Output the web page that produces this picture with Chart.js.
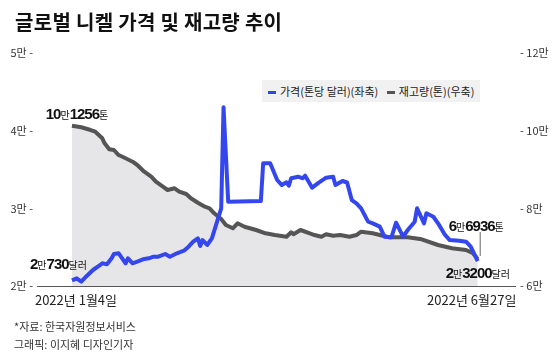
<!DOCTYPE html>
<html>
<head>
<meta charset="utf-8">
<script src="https://cdn.jsdelivr.net/npm/chart.js@4.4.1/dist/chart.umd.min.js"></script>
<style>
  body { margin: 0; background: #fff; font-family: "Noto Sans CJK KR", "Noto Sans", sans-serif; }
  #wrap { position: relative; width: 560px; height: 353px; overflow: hidden; }
  #chart { position: absolute; left: 0; top: 0; }
  .title { position: absolute; left: 15px; top: 7px; font-size: 20px; font-weight: 700; color: #111; letter-spacing: 0.3px; }
  .legend { position: absolute; left: 262px; top: 80px; width: 218px; height: 22px; background: #f1f1f1;
            font-size: 11px; color: #222; line-height: 22px; white-space: nowrap; }
  .legend span.sw { display: inline-block; width: 8px; height: 3px; vertical-align: middle; margin: 0 4px 2px 6px; }
  .note { position: absolute; left: 14px; font-size: 11px; color: #333; }
</style>
</head>
<body>
<div id="wrap">
  <canvas id="chart" width="560" height="353"></canvas>
  <div class="title">글로벌 니켈 가격 및 재고량 추이</div>
  <div class="legend"><span class="sw" style="background:#3446ee"></span>가격(톤당 달러)(좌축) <span class="sw" style="background:#555"></span>재고량(톤)(우축)</div>
  <div class="note" style="top:318px">*자료: 한국자원정보서비스</div>
  <div class="note" style="top:336px">그래픽: 이지혜 디자인기자</div>
</div>
<script>
// 날짜: 2022-01-04 기준 경과일
const priceDays = [0,2,4,6,9,12,13,15,17,18,20,21,23,24,26,28,31,33,35,37,40,42,45,48,50,52,54,55,56,58,60,64,65,67,81,82,85,88,90,92,93,94,97,99,100,103,106,109,112,113,116,118,120,122,124,127,129,132,134,137,139,142,144,147,148,151,152,155,157,160,162,166,169,171,174];
const priceValues = [20730,20990,20550,21200,22060,22700,22920,22790,23570,24120,24210,23770,22920,23570,22920,23130,23480,23570,23770,23770,24120,23770,24210,24550,25060,25700,26140,25150,25920,25280,26140,30000,43000,30850,30940,35800,35800,33650,33000,33350,32910,33870,34070,33870,34200,32660,33350,33950,34070,33000,33520,33330,31070,30650,30000,28280,28070,27640,26350,26270,28150,26350,27210,28280,30000,28070,29360,28920,28070,26570,25920,25830,25700,25060,23200];

const stockDays = [0,4,8,10,13,14,16,18,20,23,26,28,31,34,36,39,41,44,46,49,51,54,57,59,61,64,66,69,71,74,79,83,87,92,94,95,98,102,104,107,109,112,115,119,122,124,129,132,136,144,150,157,163,169,172,174];
const stockValues = [101256,100870,100170,99730,98030,96750,95200,95020,93730,92880,92010,91160,89430,88150,86860,85570,84720,85160,84280,83690,82580,81450,80420,80010,78720,77250,75710,74860,76150,75270,74420,73570,73130,72690,73830,73310,74420,73570,73130,72690,73310,72950,73130,72690,73130,73980,73570,73130,72540,72540,72030,70560,69710,69270,68420,66936];

const dateLabels = ['2022년 1월4일', '2022년 6월27일'];
const leftTicks = [20000, 30000, 40000, 50000];
const rightTicks = [60000, 80000, 100000, 120000];

const BIG = 'bold 15px "Liberation Sans", Arial, sans-serif';
const SMALL = '10px "Noto Sans CJK KR", sans-serif';

// 큰 숫자 + 작은 글자 섞어 쓰기
function mixed(ctx, parts, x, y, align) {
  let w = 0;
  parts.forEach(p => {
    ctx.font = p[1];
    ctx.letterSpacing = p[1] === BIG ? '-1px' : '0px';
    p.w = ctx.measureText(p[0]).width;
    w += p.w;
  });
  let cx = align === 'center' ? x - w / 2 : align === 'right' ? x - w : x;
  parts.forEach(p => {
    ctx.font = p[1];
    ctx.letterSpacing = p[1] === BIG ? '-1px' : '0px';
    ctx.fillText(p[0], cx, y);
    cx += p.w;
  });
  ctx.letterSpacing = '0px';
}

const labelsPlugin = {
  id: 'labels',
  afterDatasetsDraw(chart) {
    const ctx = chart.ctx;
    const xs = chart.scales.x, yL = chart.scales.y, yR = chart.scales.y1;
    const last = priceDays.length - 1, lastS = stockDays.length - 1;
    ctx.save();
    ctx.fillStyle = '#111';
    ctx.textBaseline = 'alphabetic';

    let px = xs.getPixelForValue(stockDays[0]), py = yR.getPixelForValue(stockValues[0]);
    mixed(ctx, [['10', BIG], ['만', SMALL], ['1256', BIG], ['톤', SMALL]], px + 5, py - 7, 'center');

    px = xs.getPixelForValue(priceDays[0]); py = yL.getPixelForValue(priceValues[0]);
    mixed(ctx, [['2', BIG], ['만', SMALL], ['730', BIG], ['달러', SMALL]], px + 15, py - 11, 'right');

    px = xs.getPixelForValue(stockDays[lastS]); py = yR.getPixelForValue(stockValues[lastS]);
    mixed(ctx, [['6', BIG], ['만', SMALL], ['6936', BIG], ['톤', SMALL]], px - 29, py - 28, 'left');
    ctx.strokeStyle = '#666';
    ctx.lineWidth = 1;
    ctx.beginPath();
    ctx.moveTo(px + 2.5, py - 27);
    ctx.lineTo(px + 2.5, py - 3);
    ctx.stroke();

    px = xs.getPixelForValue(priceDays[last]); py = yL.getPixelForValue(priceValues[last]);
    mixed(ctx, [['2', BIG], ['만', SMALL], ['3200', BIG], ['달러', SMALL]], px - 32, py + 17, 'left');

    // 날짜 라벨
    ctx.font = '13px "Noto Sans CJK KR", sans-serif';
    ctx.fillStyle = '#222';
    ctx.textAlign = 'center';
    ctx.fillText(dateLabels[0], xs.getPixelForValue(priceDays[0]) + 4, xs.top + 19);
    ctx.fillText(dateLabels[1], xs.getPixelForValue(priceDays[last]) - 6, xs.top + 19);
    ctx.restore();
  }
};

new Chart(document.getElementById('chart'), {
  type: 'line',
  data: {
    datasets: [
      {
        label: '가격(톤당 달러)(좌축)',
        data: priceDays.map((d, i) => ({ x: d, y: priceValues[i] })),
        yAxisID: 'y',
        borderColor: '#3446ee',
        borderWidth: 4,
        pointRadius: 0,
        tension: 0,
        borderJoinStyle: 'round',
        fill: false
      },
      {
        label: '재고량(톤)(우축)',
        data: stockDays.map((d, i) => ({ x: d, y: stockValues[i] })),
        yAxisID: 'y1',
        borderColor: '#555555',
        backgroundColor: '#e6e6e8',
        borderWidth: 4,
        pointRadius: 0,
        tension: 0,
        borderJoinStyle: 'round',
        fill: 'start'
      }
    ]
  },
  options: {
    responsive: false,
    devicePixelRatio: 1,
    animation: false,
    layout: { padding: { top: 53, left: 0, right: 0, bottom: 0 } },
    plugins: { legend: { display: false }, tooltip: { enabled: false }, title: { display: false } },
    scales: {
      x: {
        type: 'linear',
        min: -15,
        max: 190,
        grid: { display: false },
        border: { display: true, color: '#555', width: 1 },
        ticks: { display: false },
        afterFit(axis) { axis.height = 67; }
      },
      y: {
        position: 'left',
        min: 20000,
        max: 50000,
        afterBuildTicks(axis) { axis.ticks = leftTicks.map(v => ({ value: v })); },
        grid: { display: false },
        border: { display: false },
        ticks: {
          padding: -4,
          color: '#333',
          font: { size: 11, family: '"Noto Sans CJK KR", sans-serif' },
          callback: v => (v / 10000) + '만 -'
        },
        afterFit(axis) { axis.width = 37; }
      },
      y1: {
        position: 'right',
        min: 60000,
        max: 120000,
        afterBuildTicks(axis) { axis.ticks = rightTicks.map(v => ({ value: v })); },
        grid: { display: false },
        border: { display: false },
        ticks: {
          padding: -3,
          color: '#333',
          font: { size: 11, family: '"Noto Sans CJK KR", sans-serif' },
          callback: v => '- ' + (v / 10000) + '만'
        },
        afterFit(axis) { axis.width = 45; }
      }
    }
  },
  plugins: [labelsPlugin]
});
</script>
</body>
</html>
